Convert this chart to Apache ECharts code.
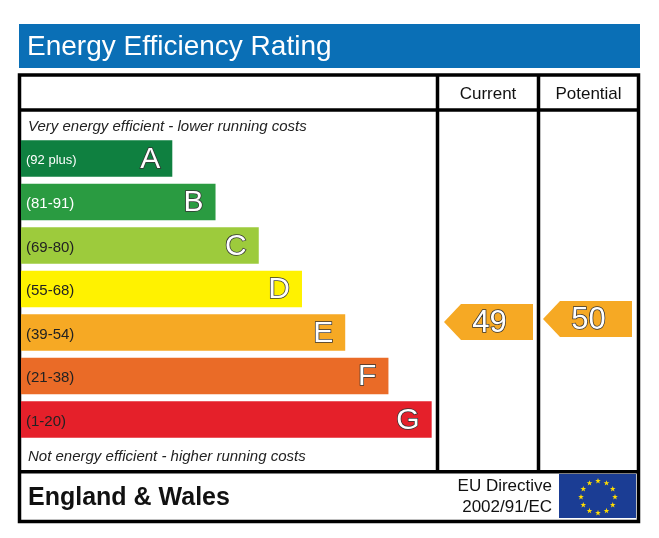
<!DOCTYPE html>
<html>
<head>
<meta charset="utf-8">
<script src="https://cdn.jsdelivr.net/npm/echarts@6/dist/echarts.min.js"></script>
<style>
html, body { margin: 0; padding: 0; background: #fff; }
#main { width: 659px; height: 538px; }
</style>
</head>
<body>
<div id="main"></div>
<script>
// rating bands, top (best) to bottom
var bands = ['A', 'B', 'C', 'D', 'E', 'F', 'G'];
var ranges = ['(92 plus)', '(81-91)', '(69-80)', '(55-68)', '(39-54)', '(21-38)', '(1-20)'];
var bandMin = [92, 81, 69, 55, 39, 21, 1];
var barLengths = [35, 45, 55, 65, 75, 85, 95];

// the two rating columns
var columns = ['Current', 'Potential'];
var scores = [49, 50];

var bandColors = ['#0f8040', '#2a9b41', '#9dcb3c', '#fff200', '#f6a924', '#ea6b27', '#e5202a'];
var rangeTextColors = ['#fff', '#fff', '#222', '#222', '#222', '#222', '#222'];
var FONT = '"Liberation Sans", Arial, sans-serif';

function bandOf(score) {
    for (var i = 0; i < bandMin.length; i++) {
        if (score >= bandMin[i]) return i;
    }
    return bandMin.length - 1;
}

function starPoints(cx, cy, R, r) {
    var pts = [];
    for (var k = 0; k < 10; k++) {
        var a = -Math.PI / 2 + k * Math.PI / 5;
        var rr = k % 2 === 0 ? R : r;
        pts.push([cx + rr * Math.cos(a), cy + rr * Math.sin(a)]);
    }
    return pts;
}

var chartDom = document.getElementById('main');
var myChart = echarts.init(chartDom);
var option;

var graphics = [
    // title band
    { type: 'rect', shape: { x: 19, y: 24, width: 621, height: 44 }, style: { fill: '#0a6fb6' } },
    { type: 'text', x: 27, y: 47, style: { text: 'Energy Efficiency Rating', fill: '#fff', font: '28px ' + FONT, verticalAlign: 'middle' } },
    // frame
    { type: 'rect', shape: { x: 19.5, y: 75, width: 619, height: 446.5 }, style: { fill: 'none', stroke: '#000', lineWidth: 3.5 } },
    { type: 'line', shape: { x1: 19.5, y1: 110, x2: 638.5, y2: 110 }, style: { stroke: '#000', lineWidth: 3.5 } },
    { type: 'line', shape: { x1: 437.5, y1: 75, x2: 437.5, y2: 471.7 }, style: { stroke: '#000', lineWidth: 3.5 } },
    { type: 'line', shape: { x1: 538.5, y1: 75, x2: 538.5, y2: 471.7 }, style: { stroke: '#000', lineWidth: 3.5 } },
    { type: 'line', shape: { x1: 19.5, y1: 471.7, x2: 638.5, y2: 471.7 }, style: { stroke: '#000', lineWidth: 3.5 } },
    // column headers
    { type: 'text', x: 488, y: 94, style: { text: columns[0], fill: '#111', font: '17px ' + FONT, align: 'center', verticalAlign: 'middle' } },
    { type: 'text', x: 588.5, y: 94, style: { text: columns[1], fill: '#111', font: '17px ' + FONT, align: 'center', verticalAlign: 'middle' } },
    // notes
    { type: 'text', x: 28, y: 127, style: { text: 'Very energy efficient - lower running costs', fill: '#222', font: 'italic 15px ' + FONT, verticalAlign: 'middle' } },
    { type: 'text', x: 28, y: 457, style: { text: 'Not energy efficient - higher running costs', fill: '#222', font: 'italic 15px ' + FONT, verticalAlign: 'middle' } },
    // footer
    { type: 'text', x: 28, y: 498, style: { text: 'England & Wales', fill: '#111', font: 'bold 25px ' + FONT, verticalAlign: 'middle' } },
    { type: 'text', x: 552, y: 486, style: { text: 'EU Directive', fill: '#111', font: '17px ' + FONT, align: 'right', verticalAlign: 'middle' } },
    { type: 'text', x: 552, y: 507, style: { text: '2002/91/EC', fill: '#111', font: '17px ' + FONT, align: 'right', verticalAlign: 'middle' } },
    { type: 'rect', shape: { x: 559, y: 474, width: 77, height: 44 }, style: { fill: '#1b3d94' } }
];

// EU stars
for (var s = 0; s < 12; s++) {
    var ang = -Math.PI / 2 + s * Math.PI / 6;
    graphics.push({
        type: 'polygon',
        shape: { points: starPoints(598 + 17 * Math.cos(ang), 497 + 16 * Math.sin(ang), 3, 1.2) },
        style: { fill: '#ffdd00' }
    });
}

option = {
    animation: false,
    grid: [
        { left: 21, top: 136.75, width: 415, height: 304.5 },
        { left: 439, top: 169, width: 198, height: 300 }
    ],
    xAxis: [
        { type: 'value', gridIndex: 0, min: 0, max: 96, show: false },
        { type: 'category', gridIndex: 1, data: columns, show: false }
    ],
    yAxis: [
        { type: 'category', gridIndex: 0, data: bands, inverse: true, show: false },
        { type: 'value', gridIndex: 1, min: 0, max: 100, show: false }
    ],
    graphic: { elements: graphics },
    series: [
        {
            name: 'band',
            type: 'bar',
            xAxisIndex: 0,
            yAxisIndex: 0,
            barCategoryGap: '16%',
            silent: true,
            data: barLengths.map(function (v, i) {
                return { value: v, itemStyle: { color: bandColors[i] } };
            }),
            label: {
                show: true,
                position: 'insideRight',
                distance: 12,
                offset: [0, 1],
                formatter: function (p) { return bands[p.dataIndex]; },
                fontFamily: FONT,
                fontSize: 30,
                color: '#fff',
                textBorderColor: '#333',
                textBorderWidth: 1.5
            }
        },
        {
            name: 'range',
            type: 'bar',
            xAxisIndex: 0,
            yAxisIndex: 0,
            barGap: '-100%',
            barCategoryGap: '16%',
            silent: true,
            itemStyle: { color: 'rgba(0,0,0,0)' },
            data: barLengths.map(function (v, i) {
                return {
                    value: v,
                    label: { color: rangeTextColors[i], fontSize: i === 0 ? 13 : 15 }
                };
            }),
            label: {
                show: true,
                position: 'insideLeft',
                distance: 5,
                offset: [0, 2],
                formatter: function (p) { return ranges[p.dataIndex]; },
                fontFamily: FONT
            }
        },
        {
            name: 'rating',
            type: 'scatter',
            xAxisIndex: 1,
            yAxisIndex: 1,
            silent: true,
            symbol: 'path://M0,18L17,0L89,0L89,36L17,36Z',
            symbolSize: [89, 36],
            itemStyle: { opacity: 1 },
            data: columns.map(function (c, i) {
                return { value: [c, scores[i]], itemStyle: { color: bandColors[bandOf(scores[i])], opacity: 1 } };
            }),
            label: {
                show: true,
                position: 'inside',
                offset: [1, 1],
                formatter: function (p) { return p.value[1]; },
                fontFamily: FONT,
                fontSize: 31,
                color: '#fff',
                textBorderColor: '#333',
                textBorderWidth: 1.5
            }
        }
    ]
};

option && myChart.setOption(option);
</script>
</body>
</html>
